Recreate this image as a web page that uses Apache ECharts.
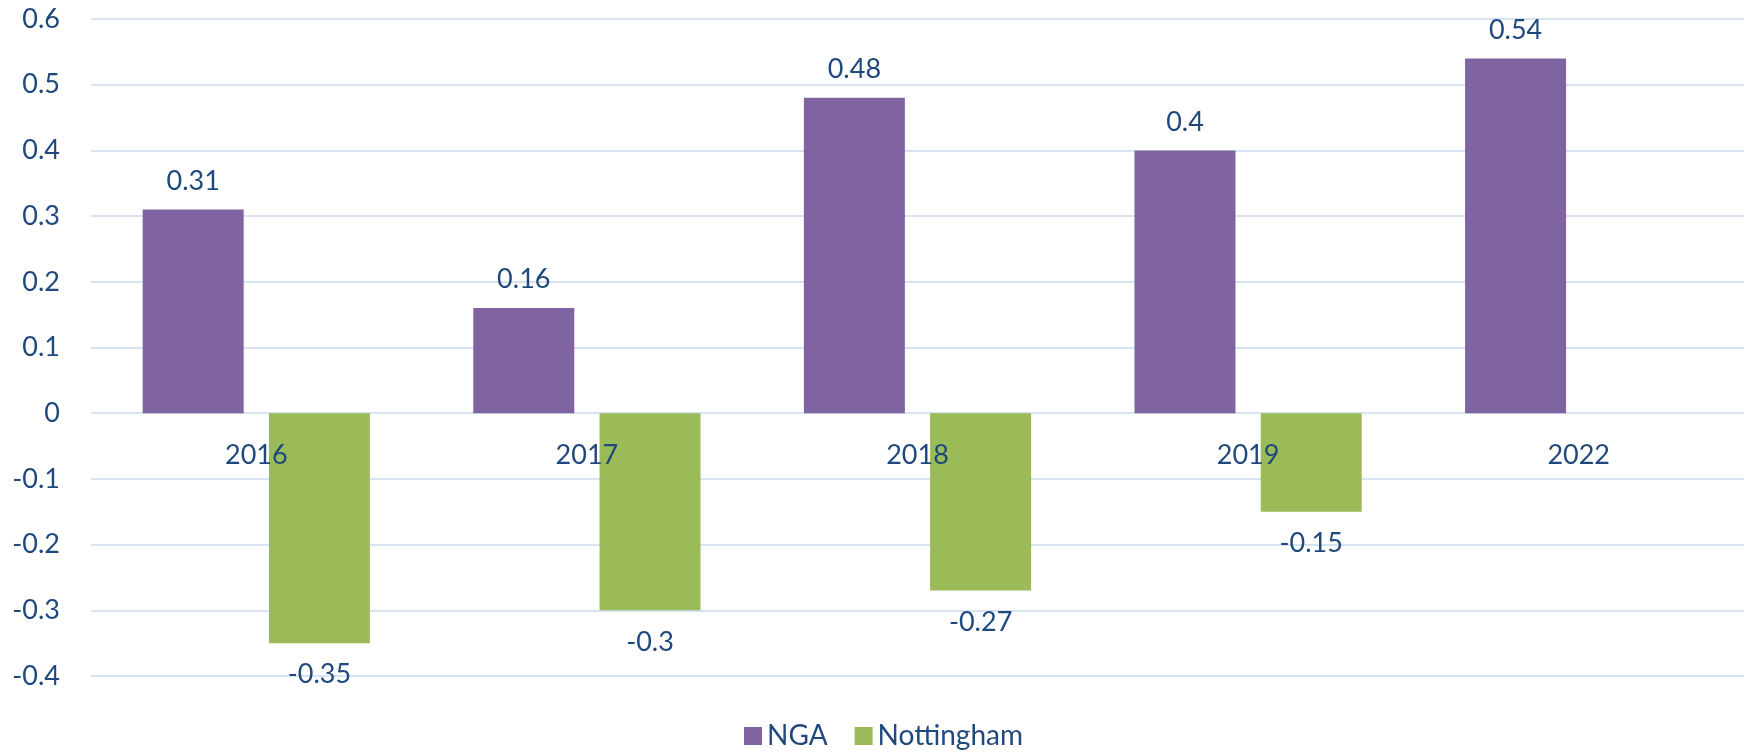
<!DOCTYPE html>
<html>
<head>
<meta charset="utf-8">
<script src="https://cdn.jsdelivr.net/npm/echarts@6/dist/echarts.min.js"></script>
<style>
  html, body { margin: 0; padding: 0; background: #fff; }
  #chart { width: 1746px; height: 754px; }
</style>
</head>
<body>
<div id="chart"></div>
<script>
// 数据
var years = ['2016', '2017', '2018', '2019', '2022']
var ngaValues = [0.31, 0.16, 0.48, 0.4, 0.54]
var nottinghamValues = [-0.35, -0.3, -0.27, -0.15, null]

var textColor = '#1F497D'
var gridColor = '#D6E3F3'
var font = 'Lato'

var chart = echarts.init(document.getElementById('chart'))
chart.setOption({
  animation: false,
  textStyle: { fontFamily: font },
  grid: { left: 91, right: 2, top: 19, bottom: 78 },
  legend: {
    left: 739,
    top: 717,
    itemWidth: 18,
    itemHeight: 18,
    itemGap: 27,
    icon: 'rect',
    textStyle: { color: textColor, fontSize: 28, fontFamily: font },
    data: ['NGA', 'Nottingham']
  },
  xAxis: {
    type: 'category',
    data: years,
    // 类目标签放在0线下方
    offset: -263,
    axisLine: { show: false, onZero: false },
    axisTick: { show: false },
    axisLabel: { color: textColor, fontSize: 27, margin: 29, fontFamily: font },
    z: 10
  },
  yAxis: {
    type: 'value',
    min: -0.4,
    max: 0.6,
    interval: 0.1,
    axisLabel: {
      color: textColor,
      fontSize: 27,
      margin: 31,
      fontFamily: font,
      formatter: function (v) { return String(Math.round(v * 10) / 10) }
    },
    splitLine: { lineStyle: { color: gridColor, width: 2 } }
  },
  series: [
    {
      name: 'NGA',
      type: 'bar',
      data: ngaValues,
      barWidth: 101,
      barGap: '25%',
      itemStyle: { color: '#8064A2' },
      label: {
        show: true,
        position: 'top',
        distance: 15,
        color: textColor,
        fontSize: 27,
        fontFamily: font
      }
    },
    {
      name: 'Nottingham',
      type: 'bar',
      data: nottinghamValues,
      barWidth: 101,
      barGap: '25%',
      itemStyle: { color: '#9BBB59' },
      label: {
        show: true,
        position: 'bottom',
        distance: 18,
        color: textColor,
        fontSize: 27,
        fontFamily: font
      }
    }
  ]
})
</script>
</body>
</html>
